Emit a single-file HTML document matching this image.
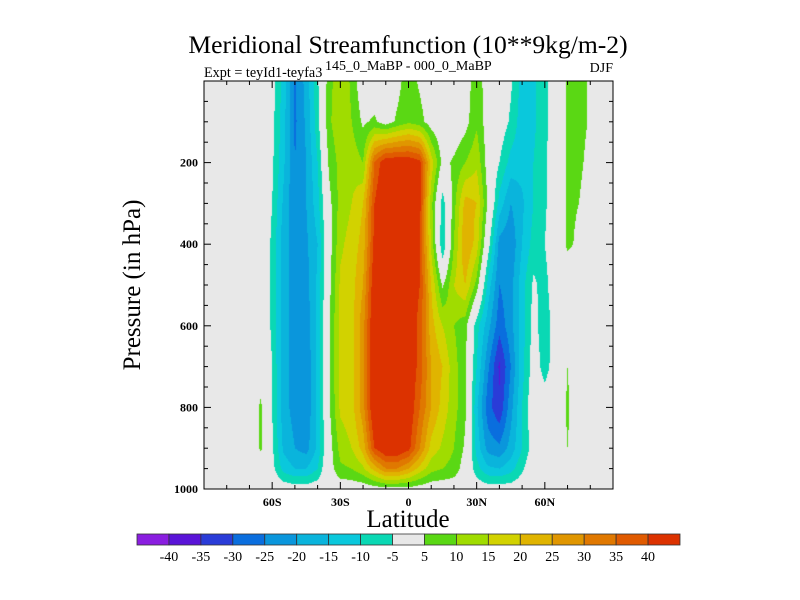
<!DOCTYPE html>
<html><head><meta charset="utf-8"><style>
body{margin:0;background:#fff;width:800px;height:600px;overflow:hidden;font-family:"Liberation Serif",serif}
#c{position:absolute;left:204px;top:81px}
svg{position:absolute;left:0;top:0}
</style></head><body>
<canvas id="c" width="409" height="408"></canvas>
<svg id="s" width="800" height="600">
<text x="408" y="53" font-size="25.6" text-anchor="middle">Meridional Streamfunction (10**9kg/m-2)</text>
<text x="204" y="77" font-size="14.2">Expt = teyId1-teyfa3</text>
<text x="325" y="70" font-size="14">145_0_MaBP - 000_0_MaBP</text>
<text x="613" y="72" font-size="14" text-anchor="end">DJF</text>
<text transform="translate(140,285) rotate(-90)" font-size="25" text-anchor="middle">Pressure (in hPa)</text>
<text x="408" y="527" font-size="25" text-anchor="middle">Latitude</text>
<g id="axes"></g>
<g id="cbar"></g>
</svg>
<script>
const lats=[-90,-85,-80,-75,-70,-65,-60,-55,-50,-45,-40,-35,-30,-25,-20,-15,-10,-5,0,5,10,15,20,25,30,35,40,45,50,55,60,65,70,75,80,85,90];
const levels=[0,100,200,300,400,500,600,700,800,900,950,1000];
const psi=[
[0,0,0,0,0,0,-3,-12,-26,-18,-6,8,14,9,0,0,0,3,8,4,0,0,0,2,8,2,0,-4,-12,-11,-7,0,6,8,4,0,0],
[0,0,0,0,0,0,-3,-13,-26,-19,-7,9,14,10,4,6,2,6,9,7,2,0,0,3,9,2,-1,-6,-13,-11,-7,0,6,8,4,0,0],
[0,0,0,0,0,0,-4,-14,-25,-20,-10,6,12,13,10,35,45,45,45,42,18,3,6,10,14,2,-5,-12,-13,-10,-6,0,6,7,2,0,0],
[0,0,0,0,0,0,-5,-16,-24,-20,-12,3,12,15,20,40,48,48,46,42,12,-8,8,22,20,4,-12,-20,-16,-10,-6,0,6,5,0,0,0],
[0,0,0,0,0,0,-6,-18,-22,-21,-15,2,14,17,22,42,48,48,46,40,14,-10,10,25,18,-2,-22,-24,-15,-8,-5,0,6,4,0,0,0],
[0,0,0,0,0,0,-6,-18,-22,-22,-14,3,16,18,25,45,48,48,45,40,20,4,15,20,8,-12,-25,-22,-12,-4,-7,0,0,0,0,0,0],
[0,0,0,0,0,0,-6,-18,-22,-23,-14,4,17,18,28,47,48,48,45,38,22,15,10,7,-8,-18,-28,-22,-12,-3,-8,-2,0,0,0,0,0],
[0,0,0,0,0,2,-5,-18,-22,-24,-14,4,17,18,28,47,48,48,45,38,25,20,12,6,-10,-24,-36,-25,-12,-2,-7,-2,5,0,0,0,0],
[0,0,0,0,0,6,-5,-18,-22,-24,-14,4,16,18,28,47,48,48,45,35,25,18,12,6,-14,-28,-34,-22,-10,0,-2,0,6,0,0,0,0],
[0,0,0,0,0,6,-4,-16,-20,-22,-14,2,12,15,22,40,46,46,42,30,18,14,10,4,-12,-22,-24,-18,-10,-2,0,0,5,0,0,0,0],
[0,0,0,0,0,0,-3,-12,-15,-15,-10,2,9,10,14,22,30,30,25,18,12,10,8,2,-8,-14,-15,-12,-6,0,0,0,0,0,0,0,0],
[0,0,0,0,0,0,0,-1,-2,-2,-1,0,1,1,1,2,3,3,3,2,1,1,1,0,-1,-2,-2,-2,-1,0,0,0,0,0,0,0,0]];
const cbLevels=[-40,-35,-30,-25,-20,-15,-10,-5,5,10,15,20,25,30,35,40];
const cbColors=["#8a1ee0","#5a14d8","#2a3cd8","#0a6ede","#0a96dc","#0ab4dc","#0ac8dc","#0ad8b4","#e8e8e8","#5ad814","#a0dc00","#d2d200","#e0b400","#e09600","#e07800","#e05a00","#dc3200"];
const yTicks=[200,400,600,800,1000];
const xTicks=[-60,-30,0,30,60];
const xTickLabels=["60S","30S","0","30N","60N"];

const L=204,T=81,W=409,H=408;
const xs=lat=>L+(lat+90)/180*W;
const ys=p=>T+p/1000*H;
function hex(h){return[parseInt(h.substr(1,2),16),parseInt(h.substr(3,2),16),parseInt(h.substr(5,2),16)];}
const rgb=cbColors.map(hex);
function colorIdx(v){let i=0;while(i<cbLevels.length&&v>=cbLevels[i])i++;return i;}
function seg(arr,v){let i=0;while(i<arr.length-2&&v>arr[i+1])i++;return[i,(v-arr[i])/(arr[i+1]-arr[i])];}
const ctx=document.getElementById('c').getContext('2d');
const img=ctx.createImageData(W,H);
for(let py=0;py<H;py++){
 const p=(py+0.5)/H*1000;const[j,fy]=seg(levels,p);
 for(let px=0;px<W;px++){
  const lat=(px+0.5)/W*180-90;const[i,fx]=seg(lats,lat);
  const v=(psi[j][i]*(1-fx)+psi[j][i+1]*fx)*(1-fy)+(psi[j+1][i]*(1-fx)+psi[j+1][i+1]*fx)*fy;
  const c=rgb[colorIdx(v)];const k=(py*W+px)*4;
  img.data[k]=c[0];img.data[k+1]=c[1];img.data[k+2]=c[2];img.data[k+3]=255;
 }
}
ctx.putImageData(img,0,0);

const NS="http://www.w3.org/2000/svg";
function mk(tag,attrs,parent,txt){const e=document.createElementNS(NS,tag);for(const a in attrs)e.setAttribute(a,attrs[a]);if(txt!==undefined)e.textContent=txt;parent.appendChild(e);return e;}
const ax=document.getElementById('axes');
const frame=mk('rect',{x:L,y:T,width:W,height:H,fill:'none',stroke:'#000','stroke-width':1},ax);


for(let p=50;p<1000;p+=50){
 const y=ys(p);const len=(p%200===0)?7:4;
 const t1=mk('line',{x1:L,x2:L+len,y1:y,y2:y,stroke:'#000'},ax);
 
 
 const t2=mk('line',{x1:L+W,x2:L+W-len,y1:y,y2:y,stroke:'#000'},ax);
 
 
}
yTicks.forEach(p=>{
 const t=mk('text',{x:L-6,y:ys(p)+4,'font-size':12,'font-weight':'bold','text-anchor':'end'},ax,String(p));
 
 
});
for(let lat=-80;lat<=80;lat+=10){
 const x=xs(lat);const len=(lat%30===0)?7:4;
 const t1=mk('line',{x1:x,x2:x,y1:T+H,y2:T+H-len,stroke:'#000'},ax);
 
 
 const t2=mk('line',{x1:x,x2:x,y1:T,y2:T+len,stroke:'#000'},ax);
 
 
}
xTicks.forEach((lat,i)=>{
 const t=mk('text',{x:xs(lat),y:T+H+17,'font-size':12,'font-weight':'bold','text-anchor':'middle'},ax,xTickLabels[i]);
 
 
});
const cb=document.getElementById('cbar');
const cbL=137,cbR=680,cbT=534,cbH=11,bw=(cbR-cbL)/cbColors.length;
cbColors.forEach((c,i)=>{
 const r=mk('rect',{x:cbL+i*bw,y:cbT,width:bw,height:cbH,fill:c,stroke:'#333','stroke-width':0.8},cb);
 
 
});
cbLevels.forEach((v,i)=>{
 const t=mk('text',{x:cbL+(i+1)*bw,y:cbT+cbH+16,'font-size':14,'text-anchor':'middle'},cb,String(v));
 
 
});
</script>
</body></html>
